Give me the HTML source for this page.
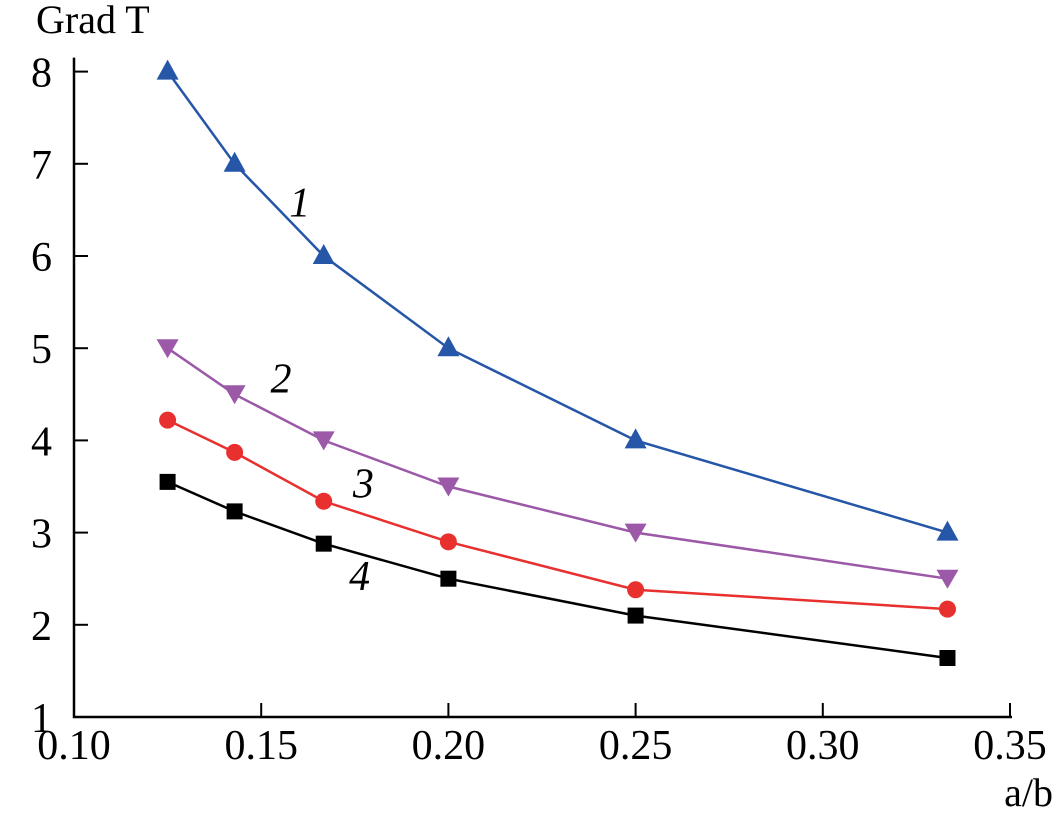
<!DOCTYPE html>
<html><head><meta charset="utf-8"><style>
body{margin:0;background:#fff}
text{font-family:"Liberation Serif",serif;fill:#000}
</style></head><body>
<svg id="chart" width="1055" height="818" xmlns="http://www.w3.org/2000/svg"></svg>
<script>
const xTicks=[0.10,0.15,0.20,0.25,0.30,0.35];
const xTickLabels=["0.10","0.15","0.20","0.25","0.30","0.35"];
const yTicks=[1,2,3,4,5,6,7,8];
const xValues=[0.125,0.1429,0.1667,0.2,0.25,0.3333];
const series1=[8,7,6,5,4,3];
const series2=[5,4.5,4,3.5,3,2.5];
const series3=[4.22,3.87,3.34,2.9,2.38,2.17];
const series4=[3.55,3.23,2.88,2.5,2.1,1.64];
const seriesLabels=["1","2","3","4"];
const svg=document.getElementById('chart');
const NS='http://www.w3.org/2000/svg';
const X=v=>74+(v-0.10)/0.25*936;
const Y=v=>717-(v-1)*92.2;
function mk(t,a,p){const e=document.createElementNS(NS,t);for(const k in a)e.setAttribute(k,a[k]);(p||svg).appendChild(e);return e;}
const axes=mk('g',{});


mk('path',{d:`M74,${Y(8)-14} V717 H1012`,fill:'none',stroke:'#000','stroke-width':2.5},axes);
xTicks.forEach((v,i)=>{
 if(i>0)mk('line',{x1:X(v),x2:X(v),y1:717,y2:703,stroke:'#000','stroke-width':2},axes);
 const t=mk('text',{x:X(v),y:759,'text-anchor':'middle','font-size':42},axes);t.textContent=xTickLabels[i];
 
 
});
yTicks.forEach(v=>{
 if(v>1)mk('line',{x1:74,x2:88,y1:Y(v),y2:Y(v),stroke:'#000','stroke-width':2},axes);
 const t=mk('text',{x:52,y:Y(v)+15,'text-anchor':'end','font-size':42},axes);t.textContent=v;
 
 
});
let t=mk('text',{x:36,y:33,'font-size':40});t.textContent='Grad T';


t=mk('text',{x:1053,y:806,'text-anchor':'end','font-size':40});t.textContent='a/b';


const all=[[series1,'#2556a8','up'],[series2,'#9b59a8','down'],[series3,'#e8302e','circle'],[series4,'#000','square']];
const labelPos=[[0.1575,6.43],[0.1525,4.52],[0.1745,3.38],[0.1735,2.38]];
all.forEach(([s,c,m],si)=>{
 const g=mk('g',{});
 
 
 mk('polyline',{points:s.map((v,i)=>X(xValues[i])+','+Y(v)).join(' '),fill:'none',stroke:c,'stroke-width':2.5},g);
 s.forEach((v,i)=>{
  const x=X(xValues[i]),y=Y(v);let e;
  if(m==='up')e=mk('polygon',{points:`${x},${y-12} ${x-11},${y+8} ${x+11},${y+8}`,fill:c},g);
  else if(m==='down')e=mk('polygon',{points:`${x},${y+10} ${x-11},${y-9} ${x+11},${y-9}`,fill:c},g);
  else if(m==='circle')e=mk('circle',{cx:x,cy:y,r:8.5,fill:c},g);
  else e=mk('rect',{x:x-8,y:y-8,width:16,height:16,fill:c},g);
  
  
 });
 const l=mk('text',{x:X(labelPos[si][0]),y:Y(labelPos[si][1]),'font-size':42,'font-style':'italic'},g);
 l.textContent=seriesLabels[si];
 
 
});
</script>
</body></html>
